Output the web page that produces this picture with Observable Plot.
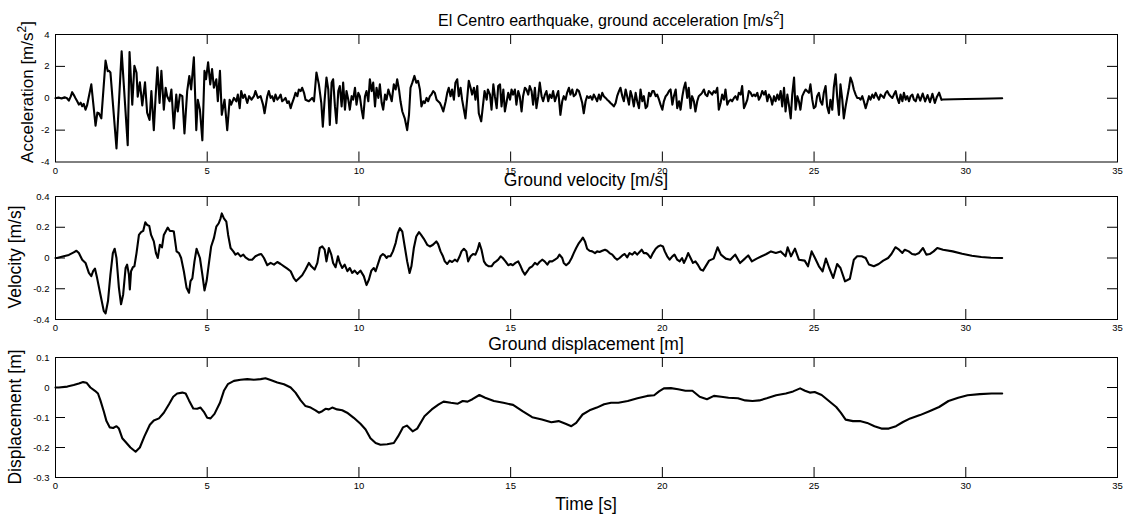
<!DOCTYPE html>
<html><head><meta charset="utf-8">
<script src="https://cdn.jsdelivr.net/npm/d3@7"></script>
<script src="https://cdn.jsdelivr.net/npm/@observablehq/plot@0.6"></script>
<style>
html,body{margin:0;padding:0;background:#fff;}
#wrap{position:relative;width:1129px;height:521px;overflow:hidden;background:#fff;}
</style></head><body><div id="wrap"></div>
<script>
const xTicks = [0,5,10,15,20,25,30,35];
const accTicks = [-4,-2,0,2,4];
const velTicks = [-0.4,-0.2,0,0.2,0.4];
const dispTicks = [-0.3,-0.2,-0.1,0,0.1];
const accInner = [-2,0,2];
const velInner = [-0.2,0,0.2];
const dispInner = [-0.2,-0.1,0];

// [time s, acceleration m/s^2]
const accelSamples = [
[0,0],[0.1,0.05],[0.2,-0.02],[0.3,0.06],[0.38,0],[0.44,-0.15],[0.5,0.1],[0.55,0.38],[0.62,0.15],[0.66,0],
[0.72,-0.2],[0.77,-0.4],[0.83,-0.28],[0.88,-0.5],[0.93,-0.35],[0.99,-0.72],[1.04,-0.45],[1.18,0.87],[1.32,-1.72],[1.38,-0.9],
[1.43,-0.94],[1.51,-1.26],[1.65,2.36],[1.72,1.7],[1.76,1.72],[1.81,1.62],[2.01,-3.15],[2.18,2.94],[2.38,-2.94],[2.44,2.9],
[2.53,-0.4],[2.6,2.04],[2.67,1.6],[2.71,0.1],[2.78,1],[2.86,-0.45],[2.95,1],[3.02,-0.9],[3.1,-1.36],[3.16,0.45],
[3.24,-2],[3.3,0.13],[3.36,1.94],[3.43,-0.3],[3.49,1.72],[3.57,-0.72],[3.63,0.66],[3.68,0.13],[3.76,-0.19],[3.82,0.55],
[3.9,-1.89],[3.98,0.23],[4.03,-0.83],[4.1,0.23],[4.18,0.13],[4.25,-2.21],[4.34,0.45],[4.41,1.4],[4.47,0.55],[4.56,2.57],
[4.64,-2],[4.69,-0.09],[4.76,-0.72],[4.84,-2.64],[4.91,1.72],[4.96,1.19],[5.03,2.26],[5.1,0.87],[5.16,1.83],[5.22,0.66],
[5.3,1.19],[5.35,-0.19],[5.42,1.72],[5.48,-1.04],[5.57,-0.09],[5.66,-2],[5.74,-0.09],[5.79,-0.4],[5.88,0.02],[5.96,-0.19],
[6.01,0.23],[6.07,-0.62],[6.12,0.45],[6.18,0.02],[6.24,0.23],[6.32,-0.3],[6.38,0.13],[6.46,-0.09],[6.54,0.13],[6.59,0.45],
[6.67,0.02],[6.76,0.13],[6.84,-0.4],[6.89,-0.94],[6.98,0.13],[7.03,0.45],
[7.09,0.02],[7.14,0.13],[7.2,-0.19],[7.25,0.23],[7.31,-0.09],[7.36,0.02],[7.42,0.23],[7.47,-0.19],[7.53,-0.09],[7.58,0.02],
[7.64,-0.3],[7.69,-0.19],[7.75,-0.62],[7.8,-0.3],[7.86,0.02],[7.91,0.34],[7.97,0.13],[8.02,0.55],[8.08,0.45],[8.13,0.66],
[8.19,0.34],[8.24,-0.09],[8.35,-0.19],[8.46,0.02],[8.52,-0.19],[8.6,1.62],[8.68,0.87],[8.76,-0.3],[8.81,-1.79],[8.87,-0.09],
[8.93,1.3],[8.99,0.55],[9.04,-1.68],[9.1,0.98],[9.15,1.19],[9.21,-0.51],[9.26,-1.57],[9.32,0.45],[9.37,0.77],[9.43,-0.51],
[9.48,0.98],[9.54,-0.72],[9.59,0.45],[9.65,-0.09],[9.7,-0.72],[9.76,0.13],[9.81,-0.09],[9.87,0.66],[9.92,-0.4],[9.98,0.34],
[10.03,0.13],[10.09,-0.72],[10.14,-1.26],[10.2,0.13],[10.25,0.45],[10.31,-0.19],[10.36,1.19],[10.42,0.45],[10.47,0.98],[10.53,-0.51],
[10.58,0.66],[10.64,0.02],[10.69,0.87],[10.75,-0.3],[10.8,-0.72],[10.86,0.23],[10.91,-0.09],[10.97,0.55],[11.02,0.23],[11.08,-0.19],
[11.15,0.87],[11.21,0.55],[11.26,1.19],[11.32,0.55],[11.37,-0.19],[11.43,-0.83],[11.51,-1.26],[11.59,-2],[11.65,-1.04],[11.7,0.66],
[11.76,0.98],[11.83,1.4],[11.89,0.98],[11.95,1.09],[12.01,0.55],[12.06,-0.51],[12.12,-0.19],[12.17,-0.3],[12.23,0.02],[12.28,-0.19],
[12.34,0.13],[12.39,0.23],[12.45,0.45],[12.5,0.34],[12.56,-0.09],[12.61,-0.19],[12.67,-0.3],[12.72,-0.51],[12.78,-0.83],[12.86,-0.19],
[12.91,0.34],[12.96,0.66],[13.02,0.13],[13.07,0.55],[13.13,-0.09],[13.18,0.98],[13.24,1.19],[13.29,0.13],[13.35,0.66],[13.4,-0.09],
[13.46,-0.72],[13.51,-1.26],[13.57,0.02],[13.62,1.09],[13.68,0.66],[13.73,0.23],[13.79,0.66],[13.84,-0.09],[13.9,0.77],[13.95,-0.94],
[14.03,-1.45],
[14.14,0.45],[14.21,-0.09],[14.25,0.55],[14.32,0.23],[14.37,-0.72],[14.43,0.87],[14.48,0.13],[14.54,-0.62],[14.59,0.77],[14.65,0.87],
[14.7,-0.51],[14.76,0.55],[14.81,-0.83],[14.87,-0.19],[14.92,0.34],[14.98,-0.09],[15.03,0.55],[15.08,0.23],[15.14,0.55],[15.19,-0.4],
[15.25,0.45],[15.3,0.13],[15.36,-0.83],[15.41,0.13],[15.47,0.66],[15.52,0.55],[15.58,0.23],[15.63,0.77],[15.69,0.45],[15.74,-0.4],
[15.8,0.66],[15.85,-0.62],[15.91,0.13],[15.96,0.98],[16.02,0.13],[16.07,-0.19],[16.13,0.23],[16.18,0.45],[16.24,-0.19],[16.29,0.23],
[16.35,0.02],[16.4,0.45],[16.46,-0.19],[16.51,0.13],[16.57,0.45],[16.64,-1.04],[16.7,-0.19],[16.75,0.13],[16.81,-0.09],[16.86,0.34],
[16.92,0.66],[16.97,0.23],[17.03,0.55],[17.08,0.13],[17.14,0.23],[17.19,0.55],[17.25,0.45],[17.3,0.13],[17.36,-0.3],[17.41,-0.94],
[17.47,-0.19],[17.52,0.13],[17.58,0.02],[17.63,0.13],[17.69,-0.09],[17.74,0.23],[17.8,0.02],[17.85,-0.19],[17.91,0.23],[17.96,-0.09],
[18.02,0.34],[18.07,0.13],[18.13,0.02],[18.18,-0.09],[18.24,-0.19],[18.29,-0.3],[18.35,-0.4],[18.4,-0.51],[18.46,-0.3],[18.51,0.13],
[18.57,0.45],[18.62,0.66],[18.68,0.13],[18.73,-0.19],[18.79,0.55],[18.84,0.13],[18.9,-0.4],[18.95,0.45],[19,0.13],[19.06,-0.51],
[19.12,0.34],[19.17,-0.19],[19.23,-0.62],[19.28,0.55],[19.34,-0.19],[19.39,0.13],[19.45,-0.62],[19.5,-0.51],[19.56,0.34],[19.61,0.13],
[19.67,0.45],[19.72,0.45],[19.78,0.13],[19.83,0.23],[19.89,-0.09],[19.94,-0.4],[20,-0.72],[20.05,-0.19],[20.11,0.13],[20.16,0.23],
[20.22,0.45],[20.27,0.55],[20.33,-0.4],[20.38,0.13],[20.44,0.55],[20.49,-0.62],[20.55,-0.19],[20.6,-0.72],[20.66,0.13],[20.71,0.66],
[20.76,0.98],[20.82,0.02],[20.87,0.66],[20.93,-0.62],[20.98,0.13],[21.04,-0.19],[21.09,-0.83],[21.15,-0.19],[21.2,0.13],
[21.26,0.23],[21.31,0.34],[21.37,0.55],[21.42,0.23],[21.48,0.13],[21.53,0.45],[21.59,0.34],[21.64,0.23],[21.7,0.45],[21.75,0.34],
[21.81,0.66],[21.86,-0.72],[21.92,-0.3],[21.97,0.23],[22.03,-0.09],[22.08,0.55],[22.14,-0.4],[22.19,-0.19],[22.25,-0.09],[22.3,-0.19],
[22.36,0.02],[22.41,0.13],[22.47,-0.09],[22.52,0.34],[22.58,0.23],[22.63,0.77],[22.69,-0.62],[22.74,-0.4],[22.8,-0.09],[22.85,0.45],
[22.91,0.34],[22.96,0.13],[23.02,0.23],[23.07,0.13],[23.13,0.34],[23.18,-0.09],[23.24,0.13],[23.29,0.45],[23.35,0.23],[23.4,0.45],
[23.46,-0.19],[23.51,0.23],[23.57,0.02],[23.62,-0.4],[23.68,0.13],[23.73,-0.19],[23.79,0.23],[23.84,-0.09],[23.9,0.45],[23.95,-0.51],
[24.01,0.66],[24.06,-0.83],[24.12,0.23],[24.17,-0.4],[24.23,-1.26],[24.28,0.23],[24.34,1.3],[24.39,-0.72],[24.45,0.13],[24.5,-0.19],
[24.55,-0.72],[24.61,0.13],[24.66,0.34],[24.72,0.55],[24.77,0.45],[24.83,0.34],[24.88,0.87],[24.94,-0.09],[24.99,-0.62],[25.05,-0.51],
[25.1,0.13],[25.16,0.34],[25.21,-0.19],[25.27,-0.4],[25.32,0.34],[25.38,0.77],[25.43,-0.51],[25.49,-0.94],[25.54,-0.09],[25.6,-0.72],
[25.65,0.66],[25.71,1.51],[25.76,0.13],[25.82,-1.04],[25.87,0.87],[25.93,-0.09],[25.98,-1.26],[26.04,-0.51],[26.09,0.02],[26.15,0.66],
[26.2,1.3],[26.26,0.98],[26.31,0.55],[26.37,0.23],[26.42,0.02],[26.48,0.02],[26.53,-0.09],[26.59,0.13],[26.64,-0.19],[26.7,-0.62],
[26.75,-0.3],[26.81,0.13],[26.86,-0.09],[26.92,0.23],[26.97,0.02],[27.03,0.34],[27.08,0.13],[27.14,-0.09],[27.19,0.23],[27.25,0.13],
[27.3,0.02],[27.36,0.34],[27.41,0.45],[27.47,0.23],[27.52,0.13],[27.58,0.02],[27.63,0.23],[27.69,0.45],[27.74,0.02],[27.8,-0.3],
[27.85,0.23],[27.91,-0.19],[27.96,0.34],[28.02,-0.09],[28.07,0.13],[28.13,-0.19],[28.18,0.13],[28.24,0.23],[28.29,-0.09],[28.35,-0.19],
[28.42,0.25],[28.5,-0.15],[28.58,0.3],[28.66,-0.2],[28.74,0.2],[28.82,-0.25],[28.9,0.28],[28.98,-0.3],[29.05,0.1],[29.12,0.35],
[29.2,-0.1],[29.25,-0.08],[29.6,-0.06],[30,-0.05],[30.5,-0.03],[31.2,0]
];

// [time s, velocity m/s]
const velocitySamples = [
[0,0],[0.05,0],[0.27,0.011],[0.44,0.02],[0.6,0.037],[0.69,0.047],[0.77,0.032],[0.88,-0.011],[0.99,-0.032],[1.1,-0.097],
[1.18,-0.118],[1.24,-0.086],[1.3,-0.069],[1.37,-0.129],[1.48,-0.237],[1.59,-0.344],[1.65,-0.361],[1.73,-0.28],[1.81,-0.108],[1.89,0.032],
[1.95,0.06],[2.01,0],[2.09,-0.194],[2.16,-0.301],[2.23,-0.237],[2.31,-0.065],[2.36,-0.043],[2.42,-0.108],[2.45,-0.204],[2.49,-0.086],
[2.55,-0.06],[2.6,-0.054],[2.67,0.032],[2.75,0.15],[2.82,0.168],[2.89,0.176],[2.96,0.232],[3.02,0.215],[3.09,0.209],[3.15,0.15],
[3.24,0.108],[3.31,0.032],[3.37,0],[3.44,0.086],[3.51,0.069],[3.57,0.15],[3.64,0.176],[3.7,0.198],[3.77,0.176],[3.84,0.176],
[3.9,0.172],[3.99,0.043],[4.07,0.032],[4.14,0],[4.23,-0.086],[4.32,-0.194],[4.4,-0.226],[4.45,-0.15],[4.51,-0.133],[4.58,-0.022],
[4.65,0.06],[4.7,0.032],[4.76,0],[4.84,-0.108],[4.91,-0.211],[4.98,-0.15],[5.05,-0.043],[5.13,0.075],[5.22,0.129],[5.3,0.204],
[5.38,0.226],[5.44,0.258],[5.48,0.29],[5.55,0.258],[5.63,0.237],[5.69,0.15],[5.77,0.065],[5.86,0.043],[5.93,0.022],[6.01,0.032],
[6.1,0.011],[6.19,0.022],[6.26,0.004],[6.37,-0.011],[6.48,-0.011],[6.59,0.011],[6.7,0.022],[6.78,0.026],[6.87,0],[6.98,-0.047],
[7.09,-0.032],[7.2,-0.043],[7.31,-0.026],[7.42,-0.039],[7.53,-0.054],[7.64,-0.069],[7.75,-0.086],[7.86,-0.133],[7.93,-0.15],[8.02,-0.133],
[8.13,-0.112],[8.24,-0.075],[8.35,-0.032],[8.43,-0.054],[8.54,-0.075],[8.63,-0.032],[8.71,0.065],[8.79,0.075],[8.87,0.054],[8.93,-0.022],
[9.01,0.065],[9.09,0.022],[9.15,-0.032],[9.23,-0.06],[9.31,0.011],[9.37,-0.032],[9.45,-0.065],[9.53,-0.043],[9.62,-0.086],[9.7,-0.065],
[9.78,-0.097],[9.86,-0.082],[9.95,-0.103],[10.05,-0.082],[10.16,-0.118],[10.25,-0.176],[10.33,-0.14],[10.41,-0.082],[10.49,-0.065],
[10.55,-0.086],[10.64,-0.032],[10.71,0.011],[10.79,0.026],[10.85,0.017],[10.91,0],[10.96,0.011],[11.04,0.011],[11.12,0.043],[11.21,0.097],
[11.28,0.161],[11.35,0.194],[11.43,0.172],[11.5,0.086],[11.59,-0.022],[11.67,-0.097],[11.73,-0.054],[11.81,0.065],[11.89,0.14],[11.98,0.168],
[12.05,0.15],[12.14,0.125],[12.25,0.086],[12.34,0.075],[12.44,0.086],[12.55,0.108],[12.61,0.09],[12.69,0.043],[12.77,0.011],[12.83,-0.022],
[12.91,-0.039],[12.99,-0.017],[13.07,-0.026],[13.16,-0.011],[13.24,-0.022],[13.32,0.011],[13.38,0.043],[13.46,0.06],[13.54,0.043],[13.6,-0.022],
[13.68,0.011],[13.76,0.026],[13.84,0.022],[13.91,0.054],[13.97,0.097],[14.04,0.054],[14.12,-0.022],[14.19,-0.043],[14.28,-0.054],[14.37,-0.054],
[14.45,-0.032],[14.52,-0.022],[14.59,-0.011],[14.67,0.011],[14.74,0],[14.83,-0.022],[14.92,-0.047],[15,-0.039],[15.07,-0.047],[15.16,-0.032],
[15.25,-0.022],[15.33,-0.054],[15.4,-0.086],[15.47,-0.108],[15.55,-0.086],[15.62,-0.065],[15.71,-0.054],[15.8,-0.032],[15.88,-0.043],[15.95,-0.026],
[16.04,-0.011],[16.12,-0.022],[16.21,-0.043],[16.28,-0.022],[16.37,-0.022],[16.46,-0.011],[16.54,0],[16.61,0.022],[16.7,0],[16.75,-0.032],
[16.83,-0.047],[16.92,-0.032],[17.01,0],[17.08,0.032],[17.16,0.065],[17.25,0.097],[17.33,0.118],[17.38,0.133],[17.45,0.108],[17.52,0.06],
[17.6,0.047],[17.69,0.043],[17.78,0.032],[17.85,0.043],[17.93,0.039],[18.02,0.047],[18.11,0.054],[18.18,0.047],[18.26,0.032],[18.35,0.022],
[18.44,0],[18.51,-0.011],[18.59,0],[18.68,0.017],[18.76,0.026],[18.84,0.004],[18.92,0.032],[19.01,0.022],[19.09,0.039],[19.17,0.022],
[19.25,0.039],[19.32,0.054],[19.39,0.032],[19.47,0.032],[19.53,0.022],[19.61,0],[19.69,0.032],[19.78,0.06],[19.86,0.075],[19.94,0.082],
[20.02,0.075],[20.08,0.043],[20.16,0.011],[20.24,-0.011],[20.33,0.011],[20.4,0.022],[20.49,-0.011],[20.57,-0.022],[20.65,0],[20.71,-0.032],
[20.79,0],[20.85,0.032],[20.93,0],[21.01,-0.032],[21.09,-0.022],[21.18,-0.047],[21.26,-0.075],[21.34,-0.082],
[21.54,-0.017],[21.69,-0.004],[21.82,0.07],[21.93,0.022],[22.09,-0.004],[22.24,-0.011],[22.4,0.022],[22.56,-0.033],[22.72,-0.004],[22.83,0.017],
[22.95,-0.022],[23.11,-0.004],[23.27,0.011],[23.43,0.026],[23.58,0.043],[23.74,0.033],[23.9,0.043],[24.06,0.011],[24.13,0.07],[24.24,0.011],
[24.37,0.061],[24.5,-0.011],[24.69,-0.017],[24.8,-0.054],[24.92,0.043],[25.03,0],[25.16,-0.054],[25.28,-0.087],[25.39,-0.004],[25.5,-0.065],
[25.63,-0.13],[25.76,-0.039],[25.87,-0.065],[26.02,-0.152],[26.18,-0.135],[26.31,-0.011],[26.42,0.011],[26.57,0.011],[26.7,0],[26.81,-0.043],
[26.97,-0.054],[27.13,-0.039],[27.28,-0.017],[27.44,0],[27.55,0.026],[27.68,0.07],[27.8,0.054],[27.91,0.033],[27.99,0.054],[28.12,0.043],
[28.23,0.026],[28.34,0.022],[28.46,0.033],[28.59,0.065],[28.7,0.022],[28.81,0.026],[28.94,0.043],[29.06,0.065],[29.25,0.054],[29.57,0.043],
[29.88,0.028],[30.2,0.015],[30.51,0.007],[30.83,0.002],[31.2,0]
];

// [time s, displacement m]
const displacementSamples = [
[0,0],[0.11,0],[0.39,0.003],[0.6,0.008],[0.77,0.013],[0.91,0.018],[1.02,0.016],[1.15,0],[1.3,-0.011],[1.4,-0.02],
[1.48,-0.043],[1.59,-0.079],[1.68,-0.112],[1.79,-0.133],[1.9,-0.135],[2.01,-0.129],[2.09,-0.137],[2.2,-0.169],[2.34,-0.185],[2.47,-0.2],
[2.64,-0.214],[2.78,-0.2],[2.93,-0.163],[3.11,-0.124],[3.24,-0.11],[3.41,-0.103],[3.57,-0.084],[3.74,-0.056],[3.88,-0.031],[4.01,-0.02],
[4.18,-0.017],[4.29,-0.02],[4.4,-0.043],[4.54,-0.07],[4.67,-0.071],[4.78,-0.067],[4.89,-0.081],[5,-0.101],[5.11,-0.103],[5.24,-0.088],
[5.42,-0.051],[5.55,-0.011],[5.68,0.011],[5.88,0.022],[6.1,0.026],[6.32,0.028],[6.54,0.026],[6.76,0.028],[6.92,0.031],[7.09,0.025],
[7.31,0.017],[7.53,0.011],[7.75,0],[7.91,-0.017],[8.08,-0.043],[8.24,-0.062],[8.41,-0.067],[8.57,-0.076],[8.68,-0.084],[8.79,-0.079],
[8.9,-0.071],[9.01,-0.073],[9.12,-0.067],[9.28,-0.073],[9.45,-0.076],[9.61,-0.084],[9.83,-0.101],[10.05,-0.121],[10.22,-0.14],[10.38,-0.169],
[10.55,-0.185],[10.71,-0.191],[10.93,-0.189],[11.15,-0.185],
[11.29,-0.163],[11.45,-0.133],[11.58,-0.127],[11.77,-0.146],[11.92,-0.137],[12.16,-0.096],[12.4,-0.073],[12.63,-0.056],[12.79,-0.047],[13.03,-0.051],
[13.26,-0.054],[13.42,-0.045],[13.58,-0.047],[13.74,-0.039],[13.97,-0.025],[14.16,-0.034],[14.45,-0.045],[14.76,-0.051],[15.08,-0.058],[15.39,-0.079],
[15.71,-0.099],[16.03,-0.107],[16.34,-0.116],[16.58,-0.112],[16.81,-0.121],[17,-0.129],[17.16,-0.118],[17.37,-0.09],[17.6,-0.076],[17.84,-0.067],
[18.08,-0.056],[18.31,-0.051],[18.55,-0.051],[18.86,-0.045],[19.18,-0.036],[19.5,-0.028],[19.73,-0.026],[19.89,-0.013],[20.05,-0.003],[20.28,-0.002],
[20.52,-0.006],[20.76,-0.011],[20.99,-0.011],[21.23,-0.031],[21.47,-0.039],[21.7,-0.028],[21.94,-0.031],[22.18,-0.034],[22.49,-0.036],[22.73,-0.043],
[22.97,-0.045],[23.2,-0.043],[23.44,-0.036],[23.75,-0.026],[24.07,-0.02],[24.31,-0.013],[24.54,-0.003],[24.7,-0.011],[24.86,-0.017],[25.02,-0.015],
[25.25,-0.025],[25.49,-0.045],[25.73,-0.065],[25.88,-0.084],[26.04,-0.107],[26.28,-0.112],[26.51,-0.112],[26.75,-0.118],[26.99,-0.129],[27.22,-0.137],
[27.46,-0.137],[27.7,-0.129],[27.93,-0.115],[28.17,-0.103],[28.49,-0.092],[28.8,-0.079],[29.12,-0.065],[29.43,-0.045],[29.75,-0.034],[30.06,-0.026],
[30.46,-0.022],[30.85,-0.02],[31.2,-0.02]
];

const FONT = '"Liberation Sans", Arial, Helvetica, sans-serif';
const W = 1129, FL = 55, FR = 1117, TICK = 10;
const wrap = document.getElementById("wrap");

const panels = [
  {samples: accelSamples, domain: [-4, 4], ticks: accTicks, inner: accInner, top: 33.5, bottom: 161},
  {samples: velocitySamples, domain: [-0.4, 0.4], ticks: velTicks, inner: velInner, top: 195.5, bottom: 318.5},
  {samples: displacementSamples, domain: [-0.3, 0.1], ticks: dispTicks, inner: dispInner, top: 357, bottom: 477}
];

for (const p of panels) {
  const mt = 10, mb = 24;
  const fh = p.bottom - p.top, fw = FR - FL;
  const chart = Plot.plot({
    width: W, height: mt + fh + mb,
    marginLeft: FL, marginRight: W - FR, marginTop: mt, marginBottom: mb,
    style: {fontFamily: FONT, fontSize: "9.5px", color: "#000", background: "transparent", overflow: "visible"},
    x: {domain: [0, 35]},
    y: {domain: p.domain},
    marks: [
      Plot.tickX(xTicks, {x: d => d, insetBottom: fh - TICK, stroke: "#000"}),
      Plot.tickX(xTicks, {x: d => d, insetTop: fh - TICK, stroke: "#000"}),
      Plot.tickY(p.inner, {y: d => d, insetRight: fw - TICK, stroke: "#000"}),
      Plot.tickY(p.inner, {y: d => d, insetLeft: fw - TICK, stroke: "#000"}),
      Plot.line(p.samples, {x: d => d[0], y: d => d[1], stroke: "#000", strokeWidth: 2.1}),
      Plot.frame({stroke: "#000", strokeWidth: 1}),
      Plot.axisX(xTicks, {tickSize: 0, tickPadding: 5, label: null, tickFormat: d => String(d)}),
      Plot.axisY(p.ticks, {tickSize: 0, tickPadding: 6, label: null, tickFormat: d => String(d)})
    ]
  });
  chart.style.position = "absolute";
  chart.style.left = "0px";
  chart.style.top = (p.top - mt) + "px";
  wrap.appendChild(chart);
}

// Titles and axis labels
const over = d3.select(wrap).append("svg")
  .attr("width", W).attr("height", 521)
  .style("position", "absolute").style("left", "0px").style("top", "0px")
  .style("pointer-events", "none")
  .attr("font-family", FONT).attr("fill", "#000");

function label(x, y, size, parts, rotate) {
  const t = over.append("text")
    .attr("text-anchor", "middle")
    .attr("font-size", size)
    .attr("transform", `translate(${x},${y})` + (rotate ? " rotate(-90)" : ""));
  for (const part of parts) {
    const s = t.append("tspan").text(part.text);
    if (part.sup) s.attr("font-size", size * 0.7).attr("dy", -size * 0.42);
    if (part.after) s.attr("dy", size * 0.42);
  }
  return t;
}

label(611, 25.5, 16, [{text: "El Centro earthquake, ground acceleration [m/s"}, {text: "2", sup: true}, {text: "]", after: true}]);
label(586, 186, 17.5, [{text: "Ground velocity [m/s]"}]);
label(586, 350, 17.5, [{text: "Ground displacement [m]"}]);
label(586, 510, 17.5, [{text: "Time [s]"}]);
label(33, 92, 17, [{text: "Acceleration [m/s"}, {text: "2", sup: true}, {text: "]", after: true}], true);
label(20.5, 257, 17.5, [{text: "Velocity [m/s]"}], true);
label(21, 417, 17.5, [{text: "Displacement [m]"}], true);
</script>
</body></html>
